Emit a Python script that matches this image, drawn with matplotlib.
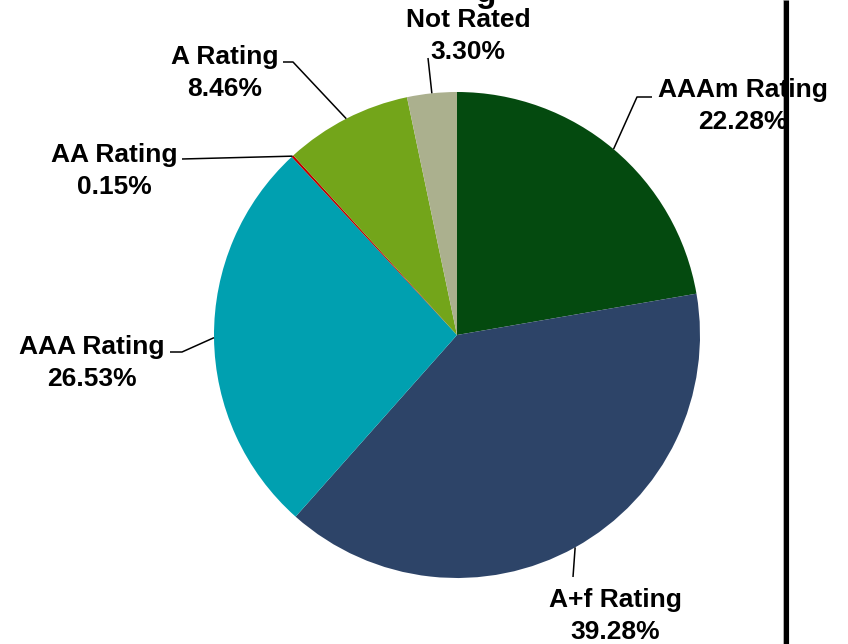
import matplotlib
matplotlib.use("Agg")
import matplotlib.pyplot as plt
import numpy as np

plt.rcParams['font.family'] = ['Liberation Sans', 'DejaVu Sans']

# slices, clockwise from 12 o'clock
names = ["AAAm Rating", "A+f Rating", "AAA Rating", "AA Rating", "A Rating", "Not Rated"]
shares = [22.28, 39.28, 26.53, 0.15, 8.46, 3.30]
colours = ["#044a0f", "#2d4468", "#00a0b0", "#c00000", "#73a51a", "#abb08e"]

W, H = 848, 644
def Y(y):
    # pixel row -> data y (axes run in pixel units, y up)
    return H - y

# label block centres and leader bends, in pixels
label_xy = [(743, 106), (615, 616), (92, 363), (114, 171), (225, 73), (468, 36)]
leader_bends = [
    [(637, 97), (652, 97)],
    [(573, 577)],
    [(182, 352), (170, 352)],
    [(182, 159)],
    [(293, 62), (283, 62)],
    [(428, 58)],
]

fig = plt.figure(figsize=(W / 100, H / 100), dpi=100)
ax = fig.add_axes([0, 0, 1, 1])

cx, cy, r = 457, 335, 243
wedges, _ = ax.pie(shares, colors=colours, startangle=90, counterclock=False,
                   center=(cx, Y(cy)), radius=r,
                   wedgeprops=dict(linewidth=0, antialiased=True))
ax.set_xlim(0, W)
ax.set_ylim(0, H)
ax.set_aspect('equal')
ax.axis('off')

for w, name, val, (tx, ty), bends in zip(wedges, names, shares, label_xy, leader_bends):
    mid = np.deg2rad((w.theta1 + w.theta2) / 2)
    ex = cx + r * np.cos(mid)
    ey = Y(cy) + r * np.sin(mid)
    xs = [ex] + [b[0] for b in bends]
    ys = [ey] + [Y(b[1]) for b in bends]
    ax.plot(xs, ys, color="black", lw=1.1, solid_capstyle='butt')
    ax.text(tx, Y(ty), f"{name}\n{val:.2f}%", ha="center", va="center",
            fontsize=19, fontweight="bold", linespacing=1.38, color="black")

# bottom of the cut-off title
ax.text(486, Y(2), "g", ha="center", va="baseline", fontsize=24,
        fontweight="bold", color="black")

# thick frame line on the right, drawn over the labels
ax.plot([782.6, 782.6], [0, H], color="#b0b0b0", lw=0.6)
ax.plot([785.5, 785.5], [0, H], color="black", lw=3.7, solid_capstyle='butt')

fig.savefig("out.png", dpi=100)
